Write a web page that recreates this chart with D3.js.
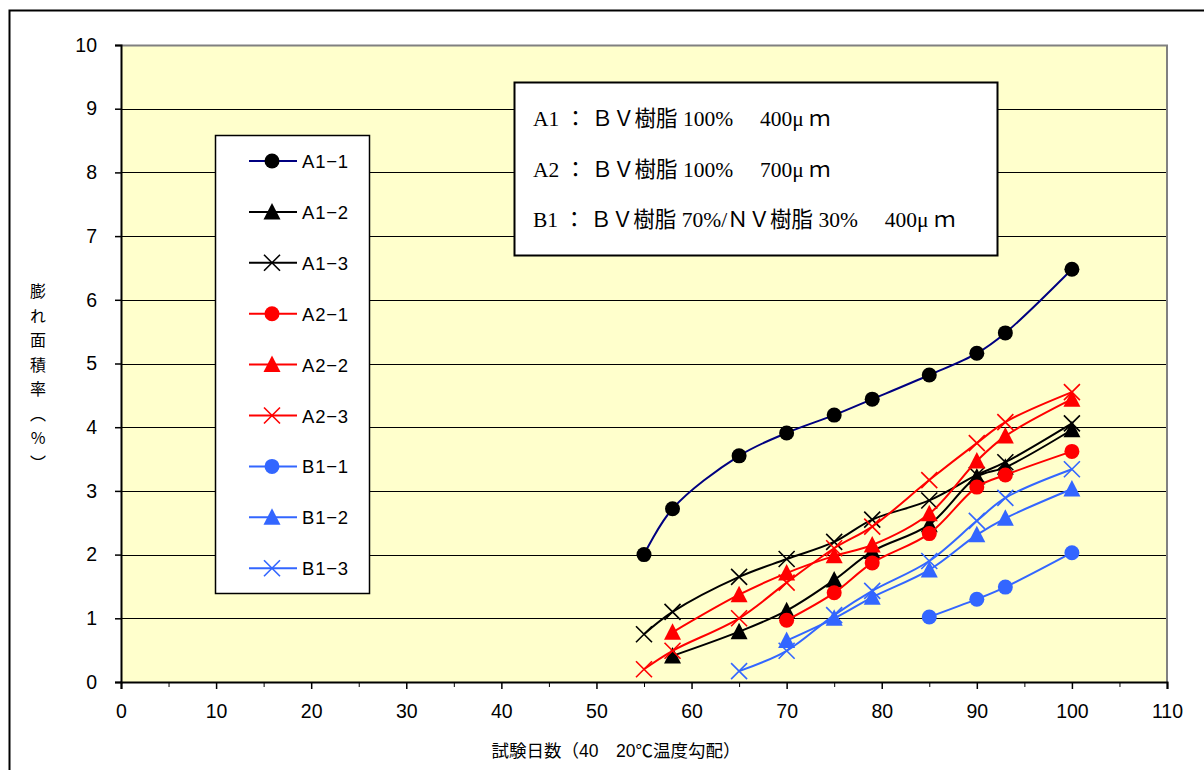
<!DOCTYPE html>
<html>
<head>
<meta charset="utf-8">
<script src="https://cdn.jsdelivr.net/npm/d3@7"></script>
<style>
  body { margin: 0; background: #fff; }
  svg text { font-family: "Liberation Sans", Arial, "Noto Sans CJK JP", sans-serif; }
</style>
</head>
<body>
<div id="canvas"></div>
<script>
// test days (x) shared by all series
const days = [55, 58, 65, 70, 75, 79, 85, 90, 93, 100];

// swelling area ratio (%), null = no point
const a1_1 = [2.0, 2.72, 3.55, 3.91, 4.19, 4.44, 4.82, 5.16, 5.48, 6.48];
const a1_2 = [null, 0.41, 0.79, 1.12, 1.6, 2.05, 2.47, 3.22, 3.37, 3.96];
const a1_3 = [0.75, 1.1, 1.65, 1.93, 2.2, 2.55, 2.85, 3.25, 3.45, 4.06];
const a2_1 = [null, null, null, 0.97, 1.4, 1.87, 2.33, 3.06, 3.25, 3.62];
const a2_2 = [null, 0.78, 1.37, 1.71, 1.98, 2.15, 2.64, 3.47, 3.86, 4.44];
const a2_3 = [0.2, 0.49, 1.0, 1.56, 2.1, 2.44, 3.17, 3.75, 4.08, 4.55];
const b1_1 = [null, null, null, null, null, null, 1.02, 1.3, 1.49, 2.03];
const b1_2 = [null, null, null, 0.65, 1.0, 1.33, 1.76, 2.31, 2.57, 3.03];
const b1_3 = [null, null, 0.17, 0.49, 1.05, 1.43, 1.9, 2.53, 2.89, 3.34];

const xTicks = d3.range(0, 111, 10);
const yTicks = d3.range(0, 11, 1);

const seriesNames = ["A1-1", "A1-2", "A1-3", "A2-1", "A2-2", "A2-3", "B1-1", "B1-2", "B1-3"];
const seriesVals = [a1_1, a1_2, a1_3, a2_1, a2_2, a2_3, b1_1, b1_2, b1_3];
const lineColors = ["#000080", "#000", "#000", "#ff0000", "#ff0000", "#ff0000", "#3366ff", "#3366ff", "#3366ff"];
const markColors = ["#000", "#000", "#000", "#ff0000", "#ff0000", "#ff0000", "#3366ff", "#3366ff", "#3366ff"];
const markShapes = ["circle", "triangle", "cross", "circle", "triangle", "cross", "circle", "triangle", "cross"];

const noteLines = [
  "A1 ： ＢＶ樹脂 100%　 400μ ｍ",
  "A2 ： ＢＶ樹脂 100%　 700μ ｍ",
  "B1 ： ＢＶ樹脂 70%/ＮＶ樹脂 30%　 400μ ｍ"
];
const yLabel = "膨れ面積率（%）";
const xLabel = "試験日数（40　20℃温度勾配）";

const width = 1204, height = 770;
const margin = { top: 45, left: 121, right: 37, bottom: 88 };
const iw = width - margin.left - margin.right;
const ih = height - margin.top - margin.bottom;

const svg = d3.select("#canvas").append("svg")
  .attr("width", width).attr("height", height);

// outer chart frame
svg.append("rect").attr("x", 9.5).attr("y", 10.5).attr("width", 1220).attr("height", 800)
  .attr("fill", "#fff").attr("stroke", "#000").attr("stroke-width", 2);

const g = svg.append("g").attr("transform", `translate(${margin.left},${margin.top})`);

const x = d3.scaleLinear().domain([0, 110]).range([0, iw]);
const y = d3.scaleLinear().domain([0, 10]).range([ih, 0]);

g.append("rect").attr("width", iw).attr("height", ih).attr("fill", "#ffffcc");

// grid
g.selectAll(".grid").data(yTicks.filter(d => d > 0 && d < 10)).enter()
  .append("line").attr("class", "grid")
  .attr("x1", 0).attr("x2", iw)
  .attr("y1", d => Math.round(y(d)) + 0.5).attr("y2", d => Math.round(y(d)) + 0.5)
  .attr("stroke", "#000").attr("stroke-width", 1);

// top / right border of plot area
g.append("path").attr("d", `M0,0.5H${iw}V${ih}`).attr("fill", "none")
  .attr("stroke", "#808080").attr("stroke-width", 2);

// axes
const yAxis = g.append("g")
  .call(d3.axisLeft(y).tickValues(yTicks).tickSize(6).tickPadding(18));
const xAxis = g.append("g").attr("transform", `translate(0,${ih})`)
  .call(d3.axisBottom(x).tickValues(xTicks).tickSize(7).tickPadding(15));
g.append("g").attr("transform", `translate(0,${ih})`)
  .call(d3.axisBottom(x).tickValues(d3.range(5, 110, 10)).tickSize(5).tickFormat(""))
  .select(".domain").remove();
[yAxis, xAxis].forEach(a => {
  a.selectAll("text").attr("font-size", 19.5).attr("fill", "#000");
  a.select(".domain").attr("stroke-width", 2);
  a.selectAll(".tick line").attr("stroke-width", 1.5);
});

// series lines
const line = d3.line()
  .defined(d => d.v !== null)
  .x(d => x(d.x)).y(d => y(d.v))
  .curve(d3.curveCatmullRom.alpha(0.5));

function drawMark(sel, shape, color) {
  if (shape === "circle") {
    sel.append("circle").attr("r", 7.5).attr("fill", color);
  } else if (shape === "triangle") {
    sel.append("path").attr("d", "M0,-9L8.5,7.5L-8.5,7.5Z").attr("fill", color);
  } else {
    sel.append("path").attr("d", "M-8,-8L8,8M-8,8L8,-8").attr("stroke", color)
      .attr("stroke-width", 1.6).attr("fill", "none");
  }
}

seriesVals.forEach((vals, i) => {
  const pts = days.map((d, j) => ({ x: d, v: vals[j] })).filter(p => p.v !== null);
  g.append("path").datum(pts).attr("d", line)
    .attr("fill", "none").attr("stroke", lineColors[i]).attr("stroke-width", 2);
  pts.forEach(p => {
    const m = g.append("g").attr("transform", `translate(${x(p.x)},${y(p.v)})`);
    drawMark(m, markShapes[i], markColors[i]);
  });
});

// legend
const leg = svg.append("g").attr("transform", "translate(215,135)");
leg.append("rect").attr("x", 0.5).attr("y", 0.5).attr("width", 154).attr("height", 458)
  .attr("fill", "#fff").attr("stroke", "#000").attr("stroke-width", 1.5);
seriesNames.forEach((name, i) => {
  const row = leg.append("g").attr("transform", `translate(0,${26 + i * 50.9})`);
  row.append("line").attr("x1", 34).attr("x2", 82).attr("stroke", lineColors[i]).attr("stroke-width", 2);
  drawMark(row.append("g").attr("transform", "translate(57,0)"), markShapes[i], markColors[i]);
  row.append("text").attr("x", 87).attr("y", 7).attr("font-size", 18.5)
    .attr("letter-spacing", 0.8).text(name.replace("-", "−"));
});

// note box
const note = svg.append("g").attr("transform", "translate(514,82)");
note.append("rect").attr("x", 0.5).attr("y", 0.5).attr("width", 483).attr("height", 173)
  .attr("fill", "#fff").attr("stroke", "#000").attr("stroke-width", 2);
noteLines.forEach((t, i) => {
  note.append("text").attr("x", 19).attr("y", 44 + i * 50.5)
    .attr("font-size", 21.5)
    .style("font-family", "'Liberation Serif', 'DejaVu Serif', 'Noto Sans CJK JP', serif")
    .text(t);
});

// y label (vertical writing)
svg.append("text").attr("x", 38).attr("y", 283)
  .attr("font-size", 16)
  .attr("letter-spacing", 8.5)
  .style("font-family", "'Noto Sans CJK JP', sans-serif")
  .style("writing-mode", "vertical-rl")
  .style("text-orientation", "upright")
  .text(yLabel);

// x label
svg.append("text").attr("x", 616).attr("y", 757).attr("text-anchor", "middle")
  .attr("font-size", 17.5).text(xLabel);
</script>
</body>
</html>
